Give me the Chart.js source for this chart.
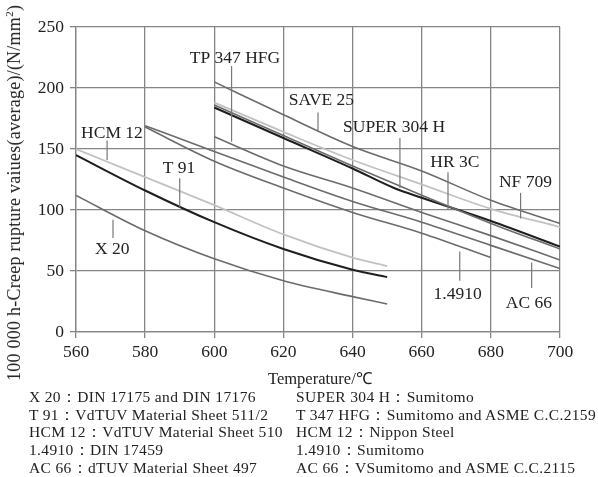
<!DOCTYPE html>
<html>
<head>
<meta charset="utf-8">
<script src="https://cdn.jsdelivr.net/npm/chart.js@4.4.1/dist/chart.umd.min.js"></script>
<style>
    html, body { margin: 0; padding: 0; background: #fff; }
    #wrap { position: relative; width: 598px; height: 477px; font-family: "Liberation Serif", "Times New Roman", serif; color: #222; overflow: hidden; }
    #chart { position: absolute; left: 0; top: 0; }
    .ytitle { position: absolute; left: 14px; top: 193px; transform: translate(-50%, -50%) rotate(-90deg); white-space: nowrap; font-size: 18px; letter-spacing: 0.25px; }
    .xtitle { position: absolute; left: 268px; top: 366px; font-size: 16.5px; white-space: nowrap; }
    .notes { position: absolute; top: 388px; font-size: 15.5px; line-height: 17.7px; letter-spacing: 0.35px; white-space: nowrap; }
</style>
</head>
<body>
<div id="wrap">
    <canvas id="chart" width="598" height="477"></canvas>
    <div class="ytitle">100 000 h-Creep rupture vaiues(average)/(N/mm<sup style="font-size:11px">2</sup>)</div>
    <div class="xtitle">Temperature/℃</div>
    <div class="notes" style="left:29px">
        X 20：DIN 17175 and DIN 17176<br>
        T 91：VdTUV Material Sheet 511/2<br>
        HCM 12：VdTUV Material Sheet 510<br>
        1.4910：DIN 17459<br>
        AC 66：dTUV Material Sheet 497
    </div>
    <div class="notes" style="left:296px">
        SUPER 304 H：Sumitomo<br>
        T 347 HFG：Sumitomo and ASME C.C.2159<br>
        HCM 12：Nippon Steel<br>
        1.4910：Sumitomo<br>
        AC 66：VSumitomo and ASME C.C.2115
    </div>
</div>
<script>
// ---- data ----
const xTicks = [560, 580, 600, 620, 640, 660, 680, 700];
const yTicks = [0, 50, 100, 150, 200, 250];

// ferritic group, 560 - 650 C
const tX20 = [560, 580, 600, 620, 640, 650];
const vX20 = [112, 83, 60, 42, 29, 23];
const tT91 = [560, 580, 600, 620, 640, 650];
const vT91 = [145, 116, 90, 68, 51, 45];
const tHcmLow = [560, 580, 600, 620, 640, 650];
const vHcmLow = [150, 127, 104, 80, 61, 54];

// austenitic group, 600 - 700 C
const tSave25 = [600, 620, 640, 660, 680, 700];
const vSave25 = [205, 178, 152, 132, 108, 89];
const tNf709 = [600, 620, 640, 660, 680, 700];
const vNf709 = [188, 164, 141, 121, 101, 86];
const tHr3c = [600, 620, 640, 660, 680, 700];
const vHr3c = [186, 161, 136, 112, 89, 68];
const tSuper304 = [600, 620, 640, 652, 660, 680, 700];
const vSuper304 = [184, 159, 134, 118, 110, 91, 70];
const tTp347 = [600, 620, 640, 660, 680, 700];
const vTp347 = [160, 136, 118, 98, 79, 59];
const tAc66 = [580, 600, 620, 640, 660, 680, 700];
const vAc66 = [169, 148, 127, 107, 90, 71, 52];
const t14910 = [580, 600, 620, 640, 660, 680];
const v14910 = [168, 140, 118, 98, 81, 61];

const BLACK = '#1e1e1e';
const GREY = '#6b6b6b';
const LIGHT = '#c2c2c2';

function series(ts, vs, color, width) {
    return {
        data: ts.map((t, i) => ({ x: t, y: vs[i] })),
        borderColor: color,
        borderWidth: width,
        pointRadius: 0,
        fill: false,
        cubicInterpolationMode: 'monotone'
    };
}

// callout labels with their leader lines, in data units
const callouts = [
    { text: 'TP 347 HFG', at: [606, 224], lead: [605, 218, 605, 156] },
    { text: 'SAVE 25', at: [631, 190], lead: [630, 180, 630, 165] },
    { text: 'SUPER 304 H', at: [652, 168], lead: [653.7, 159, 653.7, 118] },
    { text: 'HR 3C', at: [669.6, 139], lead: [667.6, 131, 667.6, 100] },
    { text: 'NF 709', at: [690, 123], lead: [688.6, 114, 688.6, 93] },
    { text: 'HCM 12', at: [570.4, 163], lead: [569, 157, 569, 141] },
    { text: 'T 91', at: [589.8, 134], lead: [590, 126, 590, 102] },
    { text: 'X 20', at: [570.5, 68], lead: [570.7, 92, 570.7, 77] },
    { text: '1.4910', at: [670.4, 31], lead: [671, 66, 671, 42] },
    { text: 'AC 66', at: [691, 23.5], lead: [691.8, 57, 691.8, 36] }
];

const calloutPlugin = {
    id: 'callouts',
    afterDatasetsDraw(chart) {
        const ctx = chart.ctx;
        const xs = chart.scales.x, ys = chart.scales.y;
        ctx.save();
        ctx.strokeStyle = '#777';
        ctx.lineWidth = 1.2;
        ctx.fillStyle = '#222';
        ctx.font = '17.5px "Liberation Serif", serif';
        ctx.textAlign = 'center';
        ctx.textBaseline = 'middle';
        callouts.forEach(c => {
            ctx.beginPath();
            ctx.moveTo(xs.getPixelForValue(c.lead[0]), ys.getPixelForValue(c.lead[1]));
            ctx.lineTo(xs.getPixelForValue(c.lead[2]), ys.getPixelForValue(c.lead[3]));
            ctx.stroke();
            ctx.fillText(c.text, xs.getPixelForValue(c.at[0]), ys.getPixelForValue(c.at[1]));
        });
        ctx.restore();
    }
};

const tickFont = { family: '"Liberation Serif", serif', size: 17.5 };

new Chart(document.getElementById('chart').getContext('2d'), {
    type: 'line',
    data: {
        datasets: [
            series(tX20, vX20, GREY, 1.6),
            series(tHcmLow, vHcmLow, LIGHT, 1.8),
            series(tT91, vT91, BLACK, 2),
            series(tSave25, vSave25, GREY, 1.6),
            series(tNf709, vNf709, LIGHT, 1.8),
            series(tHr3c, vHr3c, GREY, 1.6),
            series(tSuper304, vSuper304, BLACK, 2),
            series(tTp347, vTp347, GREY, 1.6),
            series(tAc66, vAc66, GREY, 1.6),
            series(t14910, v14910, GREY, 1.6)
        ]
    },
    options: {
        responsive: false,
        animation: false,
        layout: { padding: { left: 20, right: 38, top: 27, bottom: 115 } },
        plugins: { legend: { display: false }, tooltip: { enabled: false } },
        scales: {
            x: {
                type: 'linear', min: 560, max: 700,
                afterBuildTicks: s => { s.ticks = xTicks.map(v => ({ value: v })); },
                afterFit: s => { s.height = 30; },
                ticks: { color: '#222', font: tickFont, padding: 4, maxRotation: 0 },
                grid: { color: '#858585', lineWidth: 1.3, tickLength: 6 },
                border: { color: '#858585', width: 1.3 }
            },
            y: {
                type: 'linear', min: 0, max: 250,
                afterBuildTicks: s => { s.ticks = yTicks.map(v => ({ value: v })); },
                afterFit: s => { s.width = 56; },
                ticks: { color: '#222', font: tickFont, padding: 6 },
                grid: { color: '#858585', lineWidth: 1.3, tickLength: 6 },
                border: { color: '#858585', width: 1.3 }
            }
        }
    },
    plugins: [calloutPlugin]
});
</script>
</body>
</html>
